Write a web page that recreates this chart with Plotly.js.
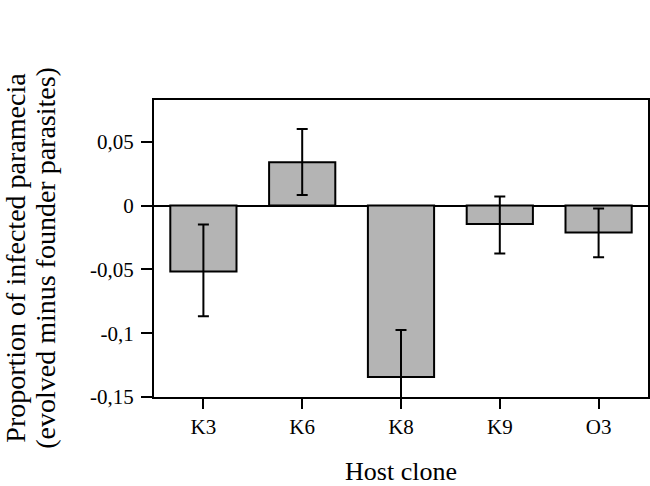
<!DOCTYPE html>
<html>
<head>
<meta charset="utf-8">
<script src="https://cdn.plot.ly/plotly-3.0.1.min.js"></script>
<style>html,body{margin:0;padding:0;background:#fff;}</style>
</head>
<body>
<div id="chart" style="width:650px;height:486px;"></div>
<script>
const categories = ["K3", "K6", "K8", "K9", "O3"];
const values = [-0.0517, 0.0339, -0.1343, -0.0144, -0.0212];
const errPlus = [0.0368, 0.026, 0.0368, 0.0214, 0.0188];
const errMinus = [0.035, 0.0256, 0.0368, 0.0232, 0.0193];
const yTickVals = [0.05, 0, -0.05, -0.1, -0.15];
const yTickText = ["0,05", "0", "-0,05", "-0,1", "-0,15"];
const yTitleLines = ["Proportion of infected paramecia", "(evolved minus founder parasites)"];
const xTitle = "Host clone";

const trace = {
  type: "bar",
  x: categories,
  y: values,
  marker: { color: "#b4b4b4", line: { color: "#000", width: 2 } },
  error_y: {
    type: "data", symmetric: false, array: errPlus, arrayminus: errMinus,
    color: "#000", thickness: 2, width: 5.5
  },
  hoverinfo: "none"
};

const fam = "Liberation Serif, Times New Roman, serif";
const titleFont = { family: fam, size: 28, color: "#000" };

const layout = {
  width: 650, height: 486,
  margin: { l: 154, r: 2, t: 100, b: 89 },
  paper_bgcolor: "#fff", plot_bgcolor: "#fff",
  font: { family: fam, color: "#000" },
  bargap: 0.33,
  showlegend: false,
  xaxis: {
    type: "category",
    range: [-0.5, 4.5],
    showline: true, linecolor: "#000", linewidth: 2, mirror: true,
    ticks: "outside", ticklen: 10, tickwidth: 2, tickcolor: "#000",
    tickfont: { family: fam, size: 21, color: "#000" },
    showgrid: false, zeroline: false,
    title: { text: xTitle, font: { family: fam, size: 26, color: "#000" }, standoff: 24 }
  },
  yaxis: {
    range: [-0.15, 0.0827],
    tickvals: yTickVals, ticktext: yTickText,
    showline: true, linecolor: "#000", linewidth: 2, mirror: true,
    ticks: "outside", ticklen: 11, tickwidth: 2, tickcolor: "#000",
    tickfont: { family: fam, size: 21, color: "#000" },
    ticklabelstandoff: 3,
    showgrid: false,
    zeroline: true, zerolinecolor: "#000", zerolinewidth: 2
  },
  annotations: [
    { text: yTitleLines[0], xref: "paper", yref: "paper", x: -0.282, y: 0.468,
      xanchor: "center", yanchor: "middle", textangle: -90, showarrow: false, font: titleFont },
    { text: yTitleLines[1], xref: "paper", yref: "paper", x: -0.221, y: 0.468,
      xanchor: "center", yanchor: "middle", textangle: -90, showarrow: false, font: titleFont }
  ]
};

Plotly.newPlot("chart", [trace], layout, { staticPlot: true, displayModeBar: false });
</script>
</body>
</html>
